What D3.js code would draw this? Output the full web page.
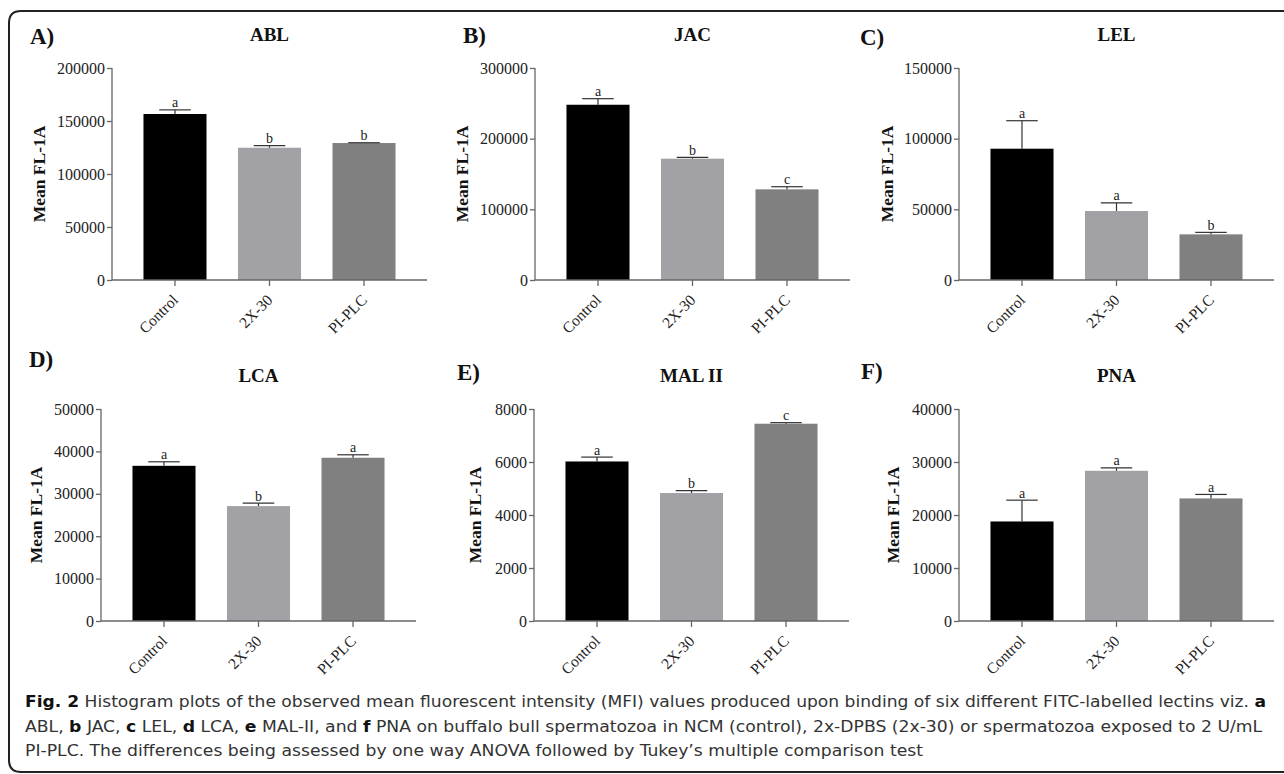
<!DOCTYPE html>
<html>
<head>
<meta charset="utf-8">
<script src="https://cdn.jsdelivr.net/npm/d3@7"></script>
<style>
  body { margin: 0; background: #fff; }
  svg { display: block; }
</style>
</head>
<body>
<div id="fig"></div>
<script>
// groups on the x axis
var categories = ["Control", "2X-30", "PI-PLC"];
var barColors = ["#000000", "#a2a2a6", "#808080"];

// one entry per panel
var panelLetters = ["A)", "B)", "C)", "D)", "E)", "F)"];
var lectins = ["ABL", "JAC", "LEL", "LCA", "MAL II", "PNA"];
var yMax = [200000, 300000, 150000, 50000, 8000, 40000];
var yStep = [50000, 100000, 50000, 10000, 2000, 10000];

// means and SEM (Control, 2X-30, PI-PLC)
var ablMean = [156600, 124800, 129200];
var ablErr  = [3900, 1900, 300];
var jacMean = [248000, 171700, 128300];
var jacErr  = [8600, 1900, 3700];
var lelMean = [92900, 48800, 32300];
var lelErr  = [19800, 5700, 1400];
var lcaMean = [36600, 27100, 38500];
var lcaErr  = [950, 700, 700];
var malMean = [6020, 4830, 7445];
var malErr  = [165, 90, 40];
var pnaMean = [18780, 28340, 23130];
var pnaErr  = [4020, 560, 750];

var ablSig = ["a", "b", "b"];
var jacSig = ["a", "b", "c"];
var lelSig = ["a", "a", "b"];
var lcaSig = ["a", "b", "a"];
var malSig = ["a", "b", "c"];
var pnaSig = ["a", "a", "a"];

var MEANS = [ablMean, jacMean, lelMean, lcaMean, malMean, pnaMean];
var ERRS = [ablErr, jacErr, lelErr, lcaErr, malErr, pnaErr];
var SIGS = [ablSig, jacSig, lelSig, lcaSig, malSig, pnaSig];

// layout of the six panels
var AXIS_X = [112, 535, 959, 101, 534, 959];
var ROW_TOP = [68, 68, 68, 409, 409, 409];
var ROW_ZERO = [280, 280, 280, 621, 621, 621];
var LETTER_X = [30, 463, 860, 29, 457, 861];
var LETTER_Y = [44, 43, 45, 367, 380, 379];
var TITLE_Y = [41, 41, 41, 382, 382, 382];
var YLAB_X = [45, 468, 893, 42, 481, 899];
var PLOT_W = 315;

var W = 1284, H = 774;
var SERIF = "'Liberation Serif', 'Times New Roman', serif";

var svg = d3.select("#fig").append("svg")
  .attr("width", W)
  .attr("height", H);

// rounded frame, open on the right
var R = 12;
svg.append("path")
  .attr("d", "M" + W + ",11 L" + (9 + R) + ",11 Q9,11 9," + (11 + R) +
             " L9," + (772 - R) + " Q9,772 " + (9 + R) + ",772 L" + W + ",772")
  .attr("fill", "none")
  .attr("stroke", "#222")
  .attr("stroke-width", 2);

for (var p = 0; p < 6; p++) {
  var x0 = AXIS_X[p];
  var x = d3.scaleBand()
    .domain(categories)
    .range([x0, x0 + PLOT_W])
    .paddingInner(0.333)
    .paddingOuter(0.333);
  var y = d3.scaleLinear()
    .domain([0, yMax[p]])
    .range([ROW_ZERO[p], ROW_TOP[p]]);

  var g = svg.append("g");

  // panel letter + title
  g.append("text")
    .attr("x", LETTER_X[p]).attr("y", LETTER_Y[p])
    .attr("font-family", SERIF).attr("font-weight", "bold")
    .attr("font-size", 23).attr("fill", "#111")
    .text(panelLetters[p]);
  g.append("text")
    .attr("x", x0 + PLOT_W / 2).attr("y", TITLE_Y[p])
    .attr("text-anchor", "middle")
    .attr("font-family", SERIF).attr("font-weight", "bold")
    .attr("font-size", 19).attr("fill", "#111")
    .text(lectins[p]);

  // y label
  var cy = (ROW_TOP[p] + ROW_ZERO[p]) / 2;
  g.append("text")
    .attr("transform", "translate(" + YLAB_X[p] + "," + cy + ") rotate(-90)")
    .attr("text-anchor", "middle")
    .attr("font-family", SERIF).attr("font-weight", "bold")
    .attr("font-size", 17.5).attr("fill", "#111")
    .text("Mean FL-1A");

  // bars
  var rows = categories.map(function(c, i) {
    return { cat: c, mean: MEANS[p][i], err: ERRS[p][i], sig: SIGS[p][i], col: barColors[i] };
  });
  g.selectAll("rect.bar").data(rows).enter().append("rect")
    .attr("class", "bar")
    .attr("x", function(d) { return x(d.cat); })
    .attr("y", function(d) { return y(d.mean); })
    .attr("width", x.bandwidth())
    .attr("height", function(d) { return y(0) - y(d.mean); })
    .attr("fill", function(d) { return d.col; });

  // error bars (upper only)
  var capW = x.bandwidth() * 0.5;
  rows.forEach(function(d) {
    var cx = x(d.cat) + x.bandwidth() / 2;
    var top = y(d.mean + d.err);
    g.append("line")
      .attr("x1", cx).attr("x2", cx)
      .attr("y1", y(d.mean)).attr("y2", top)
      .attr("stroke", "#333").attr("stroke-width", 1.2);
    g.append("line")
      .attr("x1", cx - capW / 2).attr("x2", cx + capW / 2)
      .attr("y1", top).attr("y2", top)
      .attr("stroke", "#333").attr("stroke-width", 1.2);
    g.append("text")
      .attr("x", cx).attr("y", top - 2.5)
      .attr("text-anchor", "middle")
      .attr("font-family", SERIF).attr("font-size", 14).attr("fill", "#222")
      .text(d.sig);
  });

  // axes
  var yAxis = d3.axisLeft(y)
    .tickValues(d3.range(0, yMax[p] + 1, yStep[p]))
    .tickFormat(d3.format("d"))
    .tickSize(5).tickPadding(2);
  var ya = g.append("g").attr("transform", "translate(" + x0 + ",0)").call(yAxis);

  var xAxis = d3.axisBottom(x).tickSize(6).tickSizeOuter(0).tickFormat("");
  var xa = g.append("g").attr("transform", "translate(0," + ROW_ZERO[p] + ")").call(xAxis);
  xa.select(".domain").attr("d", "M" + x0 + ",0H" + (x0 + PLOT_W));

  [ya, xa].forEach(function(a) {
    a.selectAll("path, line").attr("stroke", "#666").attr("stroke-width", 1.3);
    a.selectAll("text")
      .attr("font-family", SERIF).attr("font-size", 16).attr("fill", "#222");
  });
  ya.select(".domain").attr("d", "M0," + ROW_ZERO[p] + "V" + ROW_TOP[p]);

  // rotated category labels
  categories.forEach(function(c) {
    var tx = x(c) + x.bandwidth() / 2 + 4;
    g.append("text")
      .attr("transform", "translate(" + tx + "," + (ROW_ZERO[p] + 21) + ") rotate(-45)")
      .attr("text-anchor", "end")
      .attr("font-family", SERIF).attr("font-size", 15.5).attr("fill", "#222")
      .text(c);
  });
}

// caption
var CAP_FONT = "'Liberation Sans Narrow', 'DejaVu Sans Condensed', 'Noto Sans', sans-serif";
var capLines = [
  [["Fig. 2", 1], [" Histogram plots of the observed mean fluorescent intensity (MFI) values produced upon binding of six different FITC-labelled lectins viz. ", 0], ["a", 1]],
  [["ABL, ", 0], ["b", 1], [" JAC, ", 0], ["c", 1], [" LEL, ", 0], ["d", 1], [" LCA, ", 0], ["e", 1], [" MAL-II, and ", 0], ["f", 1], [" PNA on buffalo bull spermatozoa in NCM (control), 2x-DPBS (2x-30) or spermatozoa exposed to 2 U/mL", 0]],
  [["PI-PLC. The differences being assessed by one way ANOVA followed by Tukey\u2019s multiple comparison test", 0]]
];
var capY = [707, 732, 756];
var capEnd = [1267, 1263, null];
var capScale = 1;
capLines.forEach(function(line, i) {
  var t = svg.append("text")
    .attr("font-family", CAP_FONT).attr("font-size", 16.5).attr("fill", "#333");
  line.forEach(function(seg) {
    t.append("tspan")
      .attr("font-weight", seg[1] ? "bold" : "normal")
      .attr("fill", seg[1] ? "#111" : "#333")
      .text(seg[0]);
  });
  var w = t.node().getComputedTextLength();
  if (capEnd[i]) capScale = (capEnd[i] - 25) / w;
  t.attr("transform", "translate(25," + capY[i] + ") scale(" + capScale + ",1)");
});
</script>
</body>
</html>
